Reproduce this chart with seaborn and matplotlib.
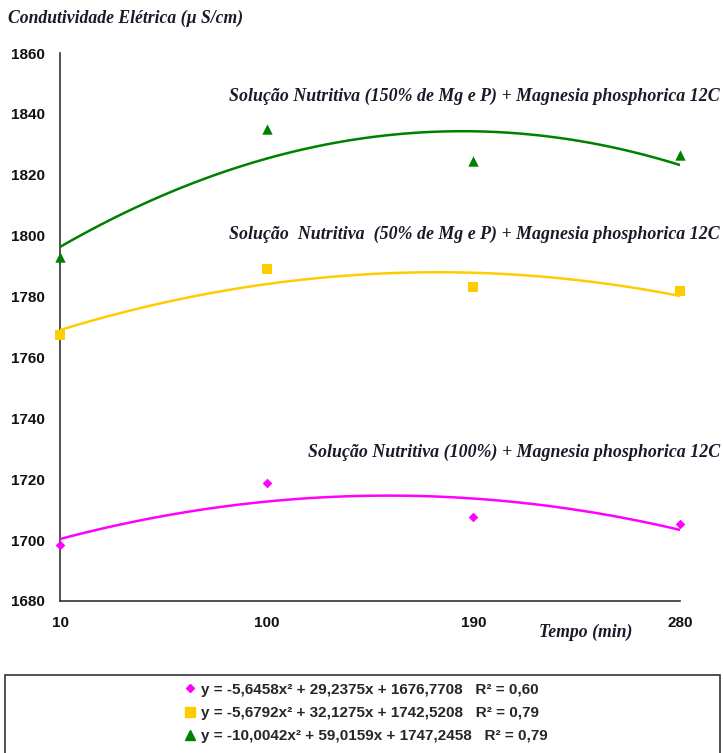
import matplotlib
matplotlib.use('Agg')
import matplotlib.pyplot as plt
from matplotlib.lines import Line2D
from matplotlib.patches import Rectangle
import seaborn as sns
import pandas as pd

# tempo (min) - categorias do eixo x, plotadas nas posicoes 1..4
tempo = ['10', '100', '190', '280']
posicao = [1, 2, 3, 4]

# condutividade eletrica (uS/cm)
sol_100 = [1698.3, 1718.8, 1707.5, 1705.4]
sol_50 = [1767.4, 1788.9, 1783.0, 1781.8]
sol_150 = [1793.0, 1835.2, 1824.4, 1826.5]

rotulos = ['Solução Nutritiva (100%) + Magnesia phosphorica 12C',
           'Solução  Nutritiva  (50% de Mg e P) + Magnesia phosphorica 12C',
           'Solução Nutritiva (150% de Mg e P) + Magnesia phosphorica 12C']
equacoes = ['y = -5,6458x² + 29,2375x + 1676,7708   R² = 0,60',
            'y = -5,6792x² + 32,1275x + 1742,5208   R² = 0,79',
            'y = -10,0042x² + 59,0159x + 1747,2458   R² = 0,79']

sns.set_style('white')
plt.rcParams['font.family'] = ['Liberation Sans', 'DejaVu Sans']

fig = plt.figure(figsize=(7.23, 7.53), dpi=100)
ax = fig.add_axes([0.083, 0.2019, 0.8575, 0.7277])

series = [(sol_100, '#FF00FF', 'D', 24, 4.5), (sol_50, '#FFCC00', 's', 48, 6.5), (sol_150, '#008000', '^', 56, 7)]
for vals, cor, mk, sz, _ in series:
    df = pd.DataFrame({'x': posicao, 'y': vals})
    sns.regplot(data=df, x='x', y='y', order=2, ci=None, ax=ax, color=cor, marker=mk,
                scatter_kws={'s': sz, 'clip_on': False, 'zorder': 4, 'linewidths': 0, 'alpha': 1},
                line_kws={'lw': 1.8, 'zorder': 3})

ax.set_xlim(1, 4)
ax.set_ylim(1680, 1860)
ax.set_yticks(range(1680, 1861, 20))
ax.set_xticks(posicao)
ax.set_xticklabels(tempo)
ax.set_xlabel('')
ax.set_ylabel('')
for s in ['top', 'right']:
    ax.spines[s].set_visible(False)
for s in ['left', 'bottom']:
    ax.spines[s].set_color('#333333')
    ax.spines[s].set_linewidth(1.2)
ax.tick_params(axis='both', direction='out', length=5, width=1.2, color='#333333',
               labelsize=11, pad=6)
for t in ax.get_xticklabels() + ax.get_yticklabels():
    t.set_fontweight('bold')
    t.set_color('#111111')

serif = dict(family='Liberation Serif', style='italic', weight='bold', color='#1a1a2a')
fig.text(8 / 723, 1 - 18 / 753, 'Condutividade Elétrica (µ S/cm)', ha='left', va='center', fontsize=12.7, **serif)
fig.text(586 / 723, 1 - 632 / 753, 'Tempo (min)', ha='center', va='center', fontsize=12.8, **serif)
for rot, yy in zip(rotulos, [452, 234, 96]):
    fig.text(720 / 723, 1 - yy / 753, rot, ha='right', va='center', fontsize=12.9, **serif)

# caixa da legenda
fig.patches.append(Rectangle((5 / 723, -0.01), 715 / 723, 78 / 753 + 0.01, transform=fig.transFigure,
                             fill=False, edgecolor='#333333', lw=1.2))
handles = [Line2D([], [], ls='', marker=mk, color=cor, markersize=ms) for _, cor, mk, _, ms in series]
leg = fig.legend(handles, equacoes, loc='center', bbox_to_anchor=(366 / 723, 1 - 713 / 753),
                 frameon=False, prop={'weight': 'bold', 'size': 11}, handlelength=0.7,
                 handletextpad=0.35, labelspacing=0.6)

fig.savefig('out.png', dpi=100)
